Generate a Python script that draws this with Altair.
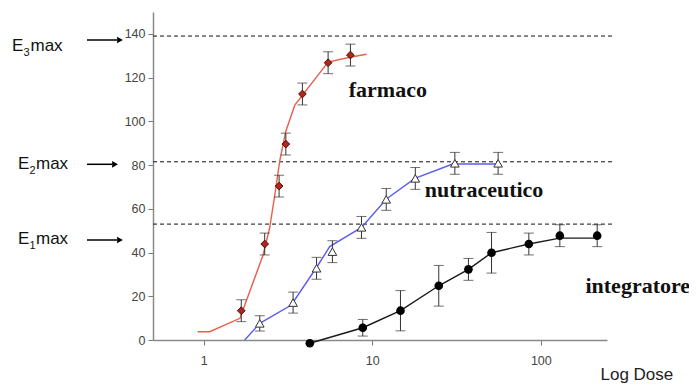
import altair as alt
import pandas as pd

# ---------------- data ----------------
# farmaco (red diamonds)
farm_dose = [1.67, 2.30, 2.80, 3.07, 3.85, 5.47, 7.42]
farm_resp = [13.4, 43.9, 70.4, 89.6, 112.5, 126.8, 130.3]
farm_err = [5, 5, 5, 5, 5, 5, 5]
farm_curve_dose = [0.92, 1.085, 1.64, 2.25, 2.46, 2.64, 2.83, 3.07, 3.47, 5.47, 7.35, 9.24]
farm_curve_resp = [3.8, 3.8, 9.9, 38.9, 51.2, 66.3, 82.3, 95.5, 107.4, 127.1, 129.3, 130.7]

# nutraceutico (open triangles)
nutra_dose = [2.15, 3.39, 4.67, 5.80, 8.63, 12.1, 18.0, 30.9, 55.8]
nutra_resp = [7.6, 17.1, 32.8, 40.4, 51.5, 64.3, 73.9, 80.8, 80.8]
nutra_err = [3.5, 4.8, 5, 5, 5, 5, 5, 5, 5]
nutra_curve_dose = [1.75, 2.15, 3.31, 4.70, 5.59, 8.64, 12.13, 17.9, 30.0, 57.0]
nutra_curve_resp = [0, 7.6, 16.0, 33.5, 42.7, 51.5, 64.5, 73.9, 80.5, 80.5]

# integratore (black circles)
integ_dose = [4.26, 8.78, 14.7, 24.8, 37.2, 51.0, 84.9, 129.7, 216]
integ_resp = [-1.5, 5.6, 13.4, 24.8, 32.3, 39.9, 43.9, 47.7, 47.7]
integ_err = [0, 3.8, 9.2, 9.3, 5, 9.3, 5, 5, 5]
integ_curve_dose = [4.26, 8.78, 14.7, 24.8, 37.2, 51.0, 84.9, 129.7, 216]
integ_curve_resp = [-1.5, 5.6, 13.4, 24.8, 32.3, 39.9, 43.9, 46.6, 46.6]

# Emax dashed levels
emax_levels = [139, 81.5, 53]
emax_subs = ["3", "2", "1"]

# series labels
series_names = ["farmaco", "nutraceutico", "integratore"]
label_dose = [7.25, 20.5, 184]
label_resp = [111.1, 65.2, 21.6]

x_ticks = [1, 10, 100]
y_ticks = [0, 20, 40, 60, 80, 100, 120, 140]

# ---------------- helpers ----------------
W, H = 454, 328
xscale = alt.Scale(type="log", domain=[0.5, 247])
yscale = alt.Scale(domain=[0, 150])
xaxis = alt.Axis(values=x_ticks, format="d", grid=False, title="Log Dose",
                 titleX=447, titleY=39, titleAlign="left", titleBaseline="alphabetic",
                 titleAnchor="start")
yaxis = alt.Axis(values=y_ticks, grid=False, title=None)


def X(field="dose"):
    return alt.X(f"{field}:Q", scale=xscale, axis=xaxis)


def Y(field="resp"):
    return alt.Y(f"{field}:Q", scale=yscale, axis=yaxis)


def pts_df(d, r, e):
    df = pd.DataFrame({"dose": d, "resp": r, "err": e})
    df["lo"] = df["resp"] - df["err"]
    df["hi"] = df["resp"] + df["err"]
    return df[df["err"] > 0]


def curve_df(d, r):
    return pd.DataFrame({"dose": d, "resp": r})


layers = []

# dashed Emax lines
emax_df = pd.DataFrame({"resp": emax_levels})
layers.append(
    alt.Chart(emax_df).mark_rule(color="#111", strokeWidth=1, strokeDash=[4, 3]).encode(
        y=Y(), x=alt.value(0), x2=alt.value(462)
    )
)

series = [
    (farm_dose, farm_resp, farm_err, farm_curve_dose, farm_curve_resp, "#e8604c"),
    (nutra_dose, nutra_resp, nutra_err, nutra_curve_dose, nutra_curve_resp, "#5c5ced"),
    (integ_dose, integ_resp, integ_err, integ_curve_dose, integ_curve_resp, "#1a1a1a"),
]

for d, r, e, cd, cr, col in series:
    layers.append(
        alt.Chart(curve_df(cd, cr)).mark_line(color=col, strokeWidth=1.4).encode(
            x=X(), y=Y(), order="dose:Q"
        )
    )

for d, r, e, cd, cr, col in series:
    edf = pts_df(d, r, e)
    layers.append(
        alt.Chart(edf).mark_rule(color="#333", strokeWidth=1).encode(
            x=X(), y=Y("lo"), y2="hi:Q"
        )
    )
    layers.append(
        alt.Chart(edf).mark_tick(orient="horizontal", size=10, thickness=1, color="#333").encode(
            x=X(), y=Y("lo")
        )
    )
    layers.append(
        alt.Chart(edf).mark_tick(orient="horizontal", size=10, thickness=1, color="#333").encode(
            x=X(), y=Y("hi")
        )
    )

# markers
layers.append(
    alt.Chart(curve_df(farm_dose, farm_resp)).mark_point(
        shape="diamond", fill="#b3241a", fillOpacity=1, stroke="#3a0804", strokeWidth=0.9,
        size=60, opacity=1
    ).encode(x=X(), y=Y())
)
layers.append(
    alt.Chart(curve_df(nutra_dose, nutra_resp)).mark_point(
        shape="triangle-up", fill="white", fillOpacity=1, stroke="#333", strokeWidth=1,
        size=75, opacity=1
    ).encode(x=X(), y=Y())
)
layers.append(
    alt.Chart(curve_df(integ_dose, integ_resp)).mark_circle(
        color="#000", size=75, opacity=1
    ).encode(x=X(), y=Y())
)

# series labels
lab_df = pd.DataFrame({"dose": label_dose, "resp": label_resp, "name": series_names})
layers.append(
    alt.Chart(lab_df).mark_text(
        font="Liberation Serif", fontSize=22, fontWeight="bold", align="left",
        baseline="alphabetic", color="#111"
    ).encode(x=X(), y=Y(), text="name:N")
)

# Emax annotations on the left (layout positions in pixels)
dummy = alt.Data(values=[{}])
ann_pos = [
    # E x, sub x, max x, baseline, arrow x1, arrow x2, arrow y
    (-141, -129.5, -122.5, 38.7, -66, -33, 28),
    (-135, -123.5, -117, 157.3, -66, -38, 152.3),
    (-135, -123.5, -117, 232, -66, -33, 228),
]
for sub, (ex, sx, mx, by, ax1, ax2, ay) in zip(emax_subs, ann_pos):
    layers.append(alt.Chart(dummy).mark_text(
        font="Liberation Sans", fontSize=17, align="left", baseline="alphabetic", color="#111",
        text="E").encode(x=alt.value(ex), y=alt.value(by)))
    layers.append(alt.Chart(dummy).mark_text(
        font="Liberation Sans", fontSize=11, align="left", baseline="alphabetic", color="#111",
        text=sub).encode(x=alt.value(sx), y=alt.value(by + 5)))
    layers.append(alt.Chart(dummy).mark_text(
        font="Liberation Sans", fontSize=17, align="left", baseline="alphabetic", color="#111",
        text="max").encode(x=alt.value(mx), y=alt.value(by)))
    layers.append(alt.Chart(dummy).mark_rule(color="#000", strokeWidth=1.5).encode(
        x=alt.value(ax1), x2=alt.value(ax2 - 3), y=alt.value(ay)))
    layers.append(alt.Chart(dummy).mark_point(
        shape="triangle-right", filled=True, color="#000", size=45, opacity=1
    ).encode(x=alt.value(ax2), y=alt.value(ay)))

chart = alt.layer(*layers).properties(
    width=W, height=H,
    autosize=alt.AutoSizeParams(type="none"),
    padding={"left": 145, "top": 4, "right": 82, "bottom": 43},
).configure_view(stroke=None).configure_axis(
    labelFont="Liberation Sans", labelFontSize=12.5, labelColor="#444",
    domainColor="#8a8a8a", domainWidth=1.5, tickColor="#777", tickSize=5,
    titleFont="Liberation Sans", titleFontSize=17, titleFontWeight="normal", titleColor="#222",
).configure_axisX(labelPadding=9).configure_axisY(labelPadding=3)

chart.save("out.html", embed_options={"renderer": "svg", "actions": False})
